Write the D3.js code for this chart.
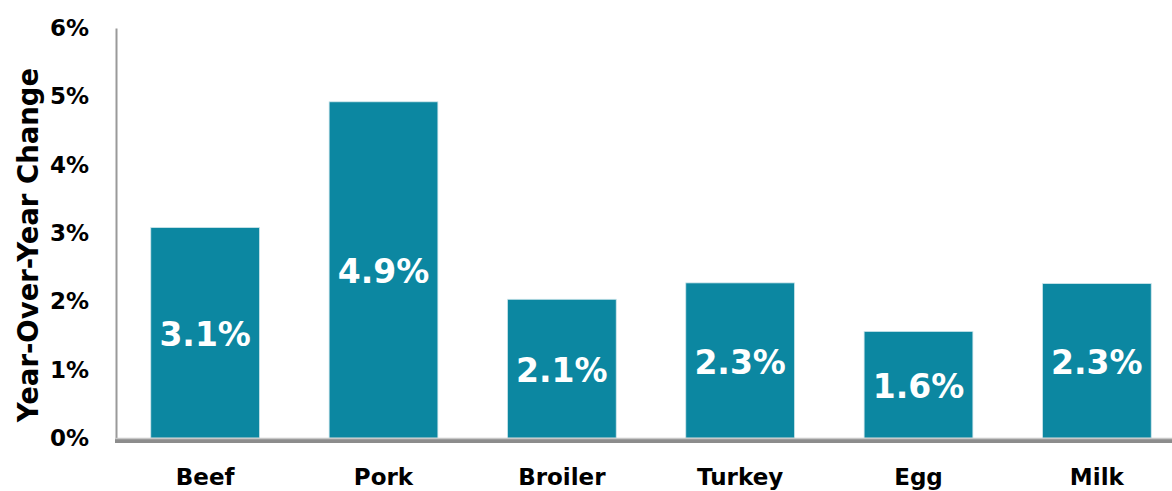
<!DOCTYPE html>
<html>
<head>
<meta charset="utf-8">
<script src="https://cdn.jsdelivr.net/npm/d3@7"></script>
<style>
  html, body { margin: 0; padding: 0; background: #fff; }
  svg { display: block; }
  svg text { font-family: "DejaVu Sans", sans-serif; }
</style>
</head>
<body>
<svg id="chart" width="1172" height="491"></svg>
<script>
// Data
const categories = ["Beef", "Pork", "Broiler", "Turkey", "Egg", "Milk"];
const values = [3.08, 4.92, 2.03, 2.27, 1.56, 2.26];
const valueLabels = ["3.1%", "4.9%", "2.1%", "2.3%", "1.6%", "2.3%"];
const yTicks = [0, 1, 2, 3, 4, 5, 6];

// Size settings
const svg = d3.select("#chart");
const margin = {top: 28, right: -14, bottom: 53, left: 116};
const width = 1172, height = 491;
const graphWidth = width - margin.left - margin.right;
const graphHeight = height - margin.top - margin.bottom;

const barColor = "#0c87a1";

// Scales
const x = d3.scaleBand().domain(categories).range([0, graphWidth]).paddingInner(0.39).paddingOuter(0.195);
const y = d3.scaleLinear().domain([0, 6]).range([graphHeight, 0]);

const g = svg.append("g").attr("transform", `translate(${margin.left},${margin.top})`);

// Bars
g.selectAll(".bar")
  .data(categories)
  .enter().append("rect")
  .attr("class", "bar")
  .attr("x", d => x(d))
  .attr("width", x.bandwidth())
  .attr("y", (d, i) => y(values[i]))
  .attr("height", (d, i) => y(0) - y(values[i]))
  .attr("fill", barColor)
  .attr("stroke", "#cfe6ec")
  .attr("stroke-width", 0.8);

// Value labels
g.selectAll(".val")
  .data(categories)
  .enter().append("text")
  .attr("class", "val")
  .attr("x", d => x(d) + x.bandwidth() / 2)
  .attr("y", (d, i) => (y(values[i]) + y(0)) / 2 + 4)
  .attr("text-anchor", "middle")
  .attr("dominant-baseline", "middle")
  .attr("fill", "#fff")
  .style("font-size", "33px")
  .style("font-weight", "bold")
  .text((d, i) => valueLabels[i]);

// Y axis
const yAxis = g.append("g")
  .call(d3.axisLeft(y).tickValues(yTicks).tickSize(0).tickPadding(27).tickFormat(d => d + "%"));
yAxis.select(".domain").attr("stroke", "#9a9a9a").attr("stroke-width", 2);
yAxis.selectAll("text")
  .style("font-family", "DejaVu Sans, sans-serif")
  .style("font-size", "23px")
  .style("font-weight", "bold")
  .attr("fill", "#000");

// X axis baseline with shadow
g.append("line")
  .attr("x1", -1).attr("x2", graphWidth)
  .attr("y1", y(0) + 3).attr("y2", y(0) + 3)
  .attr("stroke", "#8c8c8c")
  .attr("stroke-width", 4);
g.append("line")
  .attr("x1", -1).attr("x2", graphWidth)
  .attr("y1", y(0) + 0.5).attr("y2", y(0) + 0.5)
  .attr("stroke", "#c8c8c8")
  .attr("stroke-width", 1.5);

const xAxis = g.append("g")
  .attr("transform", `translate(0,${graphHeight})`)
  .call(d3.axisBottom(x).tickSize(0).tickPadding(31));
xAxis.select(".domain").remove();
xAxis.selectAll("text")
  .style("font-family", "DejaVu Sans, sans-serif")
  .style("font-size", "23px")
  .style("font-weight", "bold")
  .attr("fill", "#000");

// Y axis title
svg.append("text")
  .attr("transform", `translate(38,245) rotate(-90)`)
  .attr("text-anchor", "middle")
  .style("font-size", "27.5px")
  .style("font-weight", "bold")
  .text("Year-Over-Year Change");
</script>
</body>
</html>
